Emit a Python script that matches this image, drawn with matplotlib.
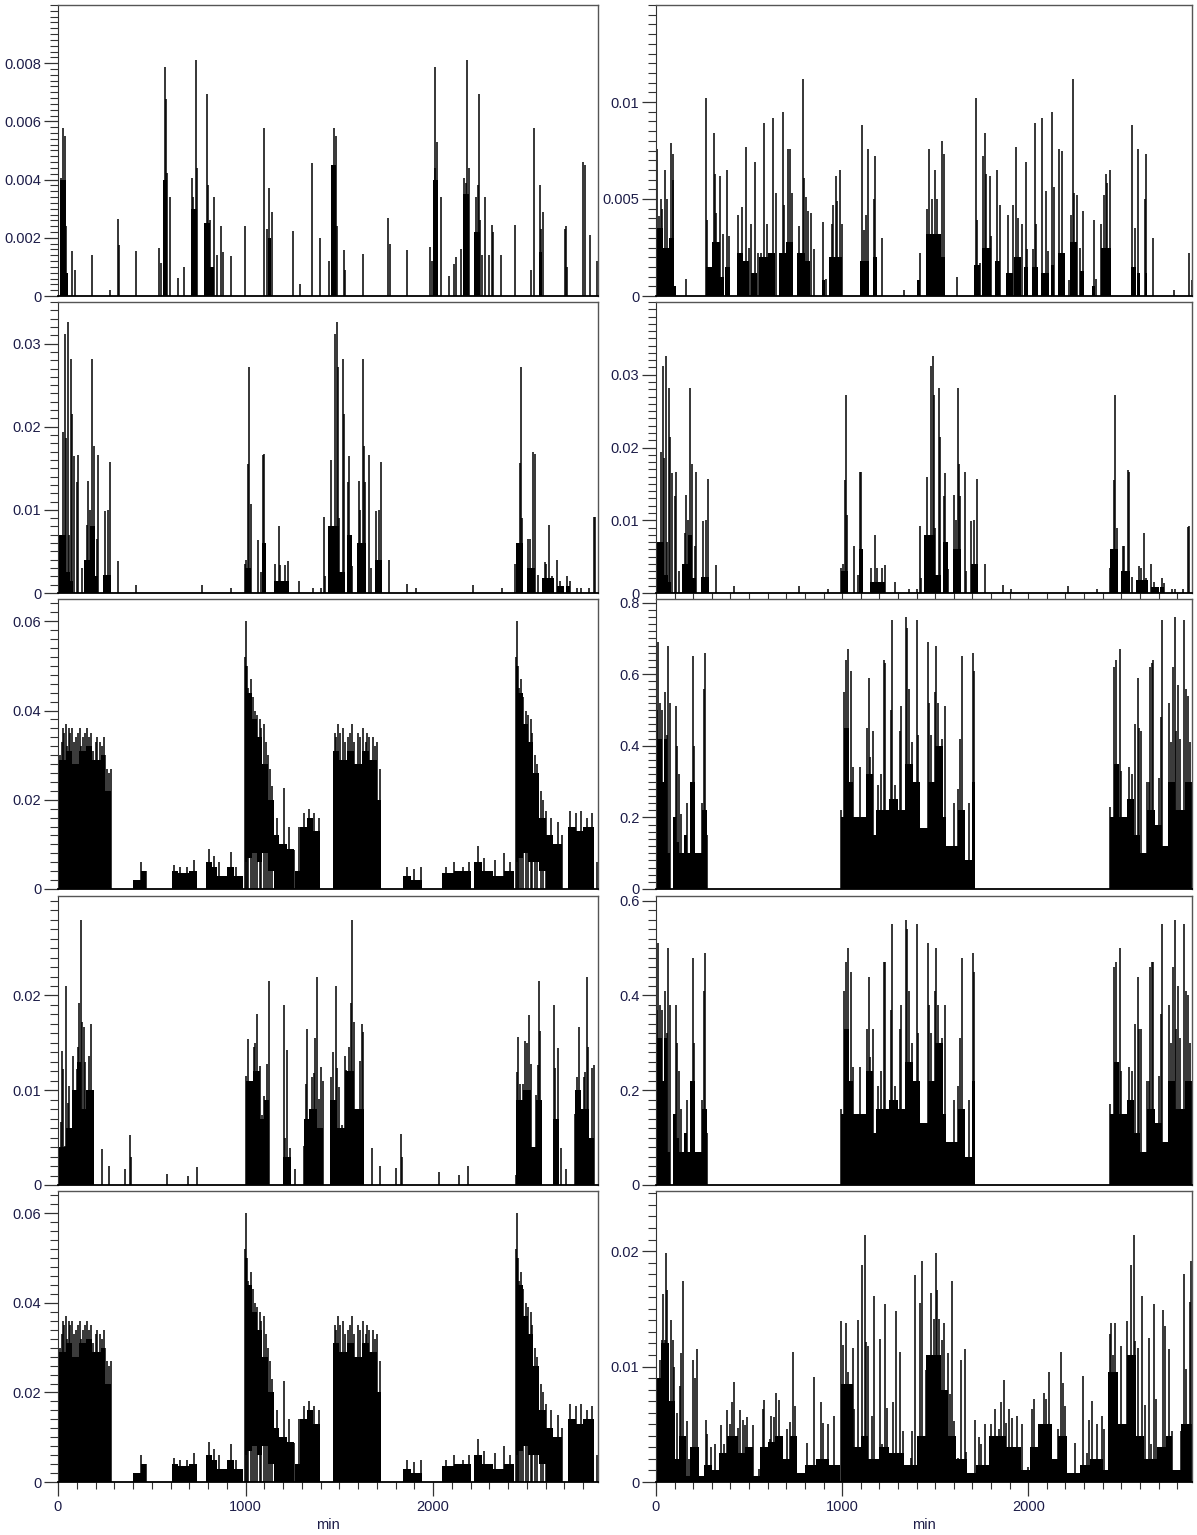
import matplotlib
matplotlib.use("Agg")
import matplotlib.pyplot as plt
from matplotlib.ticker import MultipleLocator, FixedLocator, FuncFormatter

plt.rcParams['font.family'] = ['Liberation Sans', 'DejaVu Sans']

# ---- data: (minute, value) spikes and dense blocks (start, end, top) or (start, end, low, top) ----
pk_l1 = [(15, 0.00405), (24, 0.00576), (37, 0.0055), (43, 0.0024), (76, 0.00156), (89, 0.00089), (182, 0.0014),
         (275, 0.0002), (319, 0.00264), (325, 0.00175), (418, 0.00156), (537, 0.00164), (550, 0.00114),
         (568, 0.00786), (574, 0.00676), (580, 0.00423), (596, 0.0034), (640, 0.00062), (674, 0.001),
         (715, 0.00405), (722, 0.0034), (735, 0.0081), (741, 0.0044), (785, 0.001), (795, 0.00693),
         (799, 0.0038), (808, 0.0026), (832, 0.0034), (850, 0.0014), (871, 0.0024), (878, 0.0015),
         (925, 0.00137), (999, 0.0024), (1097, 0.00576), (1112, 0.0023), (1125, 0.0037), (1142, 0.0029),
         (1255, 0.00223), (1290, 0.0004), (1357, 0.00457), (1398, 0.002), (1444, 0.0012), (1460, 0.00405),
         (1473, 0.00576), (1482, 0.0055), (1487, 0.0024), (1523, 0.00158), (1532, 0.0009), (1627, 0.00144),
         (1760, 0.00267), (1770, 0.00179), (1862, 0.00158), (1983, 0.0017), (1996, 0.0012), (2008, 0.0044),
         (2013, 0.00786), (2020, 0.0053), (2042, 0.0034), (2085, 0.0007), (2113, 0.0011), (2122, 0.00135),
         (2150, 0.0016), (2163, 0.00405), (2174, 0.0039), (2182, 0.0081), (2190, 0.0044), (2228, 0.0034),
         (2238, 0.0038), (2245, 0.00693), (2252, 0.0026), (2262, 0.0014), (2276, 0.0034), (2297, 0.0014),
         (2314, 0.00244), (2318, 0.0022), (2364, 0.0014), (2438, 0.00244), (2522, 0.0009), (2536, 0.00576),
         (2572, 0.0038), (2578, 0.0023), (2587, 0.0029), (2702, 0.0023), (2708, 0.0024), (2712, 0.001),
         (2802, 0.0046), (2809, 0.0045), (2839, 0.0021), (2875, 0.0012)]
blk_l1 = [(12, 42, 0.004), (42, 55, 0.0008), (560, 582, 0.004), (708, 742, 0.003), (780, 812, 0.0025),
          (812, 830, 0.001), (1120, 1135, 0.002), (1458, 1485, 0.0045), (1998, 2025, 0.004),
          (2160, 2192, 0.0035), (2220, 2250, 0.0022), (2565, 2580, 0.0015)]

pk_r1 = [(7, 0.0076), (14, 0.0041), (25, 0.005), (34, 0.0045), (48, 0.0065), (57, 0.005), (82, 0.0079),
         (92, 0.006), (94, 0.0073), (160, 0.0009), (268, 0.0102), (274, 0.0039), (309, 0.0084), (315, 0.0063),
         (324, 0.0043), (343, 0.0062), (358, 0.0032), (380, 0.0065), (393, 0.0031), (442, 0.0042),
         (460, 0.0046), (483, 0.0077), (498, 0.0025), (513, 0.0037), (530, 0.0069), (548, 0.0022),
         (565, 0.0022), (580, 0.0089), (595, 0.0037), (629, 0.0092), (644, 0.0053), (681, 0.0095),
         (687, 0.0047), (711, 0.0076), (722, 0.0076), (729, 0.0053), (769, 0.0036), (790, 0.0112),
         (793, 0.0061), (806, 0.0051), (815, 0.0044), (834, 0.0043), (847, 0.0024), (898, 0.0038),
         (913, 0.0009), (943, 0.0037), (950, 0.0047), (965, 0.0062), (974, 0.0049), (988, 0.0065),
         (997, 0.0037), (1107, 0.0088), (1116, 0.0034), (1127, 0.0042), (1140, 0.0076), (1174, 0.005),
         (1176, 0.0072), (1215, 0.003), (1333, 0.0003), (1417, 0.0022), (1458, 0.0045), (1467, 0.0076),
         (1482, 0.005), (1497, 0.0065), (1510, 0.005), (1525, 0.0013), (1538, 0.008), (1548, 0.0073),
         (1615, 0.001), (1718, 0.0102), (1725, 0.0039), (1740, 0.0017), (1757, 0.0072), (1766, 0.0084),
         (1772, 0.0063), (1795, 0.0062), (1800, 0.0031), (1832, 0.0065), (1847, 0.0047), (1893, 0.0042),
         (1917, 0.0047), (1936, 0.0077), (1944, 0.004), (1968, 0.0037), (1987, 0.0069), (1996, 0.0024),
         (2024, 0.0024), (2034, 0.0089), (2043, 0.0037), (2076, 0.0092), (2095, 0.0054), (2108, 0.0023),
         (2127, 0.0095), (2136, 0.0056), (2168, 0.0076), (2180, 0.0075), (2187, 0.0017), (2217, 0.0008),
         (2230, 0.0042), (2239, 0.0112), (2248, 0.0053), (2262, 0.0052), (2277, 0.0025), (2292, 0.0044),
         (2351, 0.0039), (2362, 0.0009), (2392, 0.0037), (2407, 0.0052), (2418, 0.0063), (2425, 0.0058),
         (2441, 0.0065), (2557, 0.0088), (2572, 0.0035), (2590, 0.0076), (2627, 0.005), (2631, 0.0073),
         (2669, 0.003), (2781, 0.0003), (2865, 0.0022), (2878, 0.0008)]
blk_r1 = [(0, 40, 0.0035), (40, 70, 0.0025), (70, 95, 0.003), (95, 110, 0.0005), (268, 300, 0.0015),
          (300, 345, 0.0028), (345, 365, 0.001), (370, 400, 0.0015), (435, 470, 0.0022), (470, 500, 0.0018),
          (510, 545, 0.0012), (555, 600, 0.002), (600, 640, 0.0022), (660, 700, 0.0022), (700, 735, 0.0028),
          (755, 800, 0.0022), (800, 830, 0.0018), (890, 910, 0.0008), (930, 1000, 0.002), (1095, 1145, 0.0018),
          (1165, 1185, 0.002), (1405, 1420, 0.0008), (1450, 1530, 0.0032), (1530, 1555, 0.002),
          (1710, 1740, 0.0016), (1750, 1800, 0.0025), (1820, 1850, 0.0018), (1880, 1920, 0.0012),
          (1925, 1960, 0.002), (1975, 2000, 0.0015), (2020, 2050, 0.0015), (2070, 2110, 0.0012),
          (2120, 2140, 0.0016), (2160, 2200, 0.0022), (2225, 2260, 0.0028), (2280, 2300, 0.0013),
          (2345, 2360, 0.0005), (2390, 2445, 0.0025), (2550, 2580, 0.0015), (2585, 2600, 0.0012),
          (2625, 2640, 0.0012)]

# second row: same trace on both sides
pk_2 = [(15, 0.0057), (28, 0.0194), (37, 0.0312), (42, 0.0186), (52, 0.0326), (60, 0.007), (71, 0.0282),
        (76, 0.0215), (84, 0.0165), (102, 0.0134), (108, 0.0166), (126, 0.003), (154, 0.0082), (160, 0.0135),
        (172, 0.01), (182, 0.0282), (191, 0.0177), (210, 0.0065), (215, 0.0166), (251, 0.0099), (266, 0.01),
        (279, 0.0157), (321, 0.0038), (418, 0.001), (767, 0.001), (925, 0.0006), (995, 0.0035), (1004, 0.004),
        (1014, 0.0155), (1021, 0.0272), (1027, 0.0107), (1064, 0.0064), (1085, 0.0025), (1094, 0.0166),
        (1101, 0.0167), (1157, 0.0035), (1176, 0.008), (1185, 0.0034), (1213, 0.0034), (1228, 0.0038),
        (1284, 0.0015), (1362, 0.0006), (1400, 0.0006), (1417, 0.0092), (1426, 0.0021), (1454, 0.016),
        (1465, 0.0069), (1476, 0.0312), (1487, 0.0326), (1494, 0.0272), (1500, 0.009), (1519, 0.0282),
        (1524, 0.0215), (1547, 0.0134), (1552, 0.0165), (1570, 0.0033), (1603, 0.0135), (1612, 0.01),
        (1625, 0.0282), (1630, 0.0177), (1636, 0.0133), (1658, 0.0166), (1667, 0.003), (1695, 0.0099),
        (1710, 0.01), (1723, 0.0157), (1766, 0.004), (1862, 0.0011), (1908, 0.0006), (2212, 0.001),
        (2370, 0.0006), (2438, 0.0035), (2447, 0.004), (2462, 0.0156), (2468, 0.0272), (2475, 0.009),
        (2509, 0.0065), (2516, 0.0065), (2535, 0.0169), (2542, 0.0167), (2560, 0.0022), (2596, 0.0037),
        (2605, 0.0035), (2620, 0.0082), (2633, 0.002), (2661, 0.004), (2676, 0.0015), (2717, 0.002),
        (2728, 0.0014), (2770, 0.0006), (2788, 0.0006), (2832, 0.0006), (2856, 0.0091), (2866, 0.0092)]
blk_2 = [(5, 45, 0.007), (45, 62, 0.0025), (62, 80, 0.0015), (140, 172, 0.004), (172, 195, 0.008),
         (195, 215, 0.002), (240, 285, 0.0022), (995, 1030, 0.003), (1090, 1110, 0.006), (1150, 1230, 0.0015),
         (1440, 1500, 0.008), (1500, 1530, 0.0025), (1540, 1570, 0.007), (1595, 1640, 0.006),
         (1690, 1730, 0.004), (2440, 2480, 0.006), (2500, 2545, 0.003), (2580, 2645, 0.0018),
         (2660, 2700, 0.0008), (2710, 2730, 0.0008)]

# third and fifth row left: same trace
pk_3 = [(13, 0.030), (20, 0.033), (25, 0.036), (32, 0.035), (40, 0.037), (48, 0.032), (58, 0.036), (66, 0.035),
        (76, 0.036), (86, 0.033), (95, 0.034), (105, 0.035), (115, 0.036), (125, 0.032), (135, 0.034),
        (145, 0.035), (156, 0.036), (165, 0.034), (174, 0.035), (185, 0.031), (200, 0.033), (210, 0.034),
        (222, 0.033), (232, 0.032), (244, 0.034), (252, 0.03), (262, 0.027), (270, 0.026), (280, 0.027),
        (440, 0.006), (470, 0.004), (618, 0.0054), (650, 0.005), (690, 0.005), (725, 0.0065),
        (805, 0.009), (830, 0.0073), (860, 0.006), (920, 0.0084), (950, 0.005), (996, 0.052), (1002, 0.06),
        (1010, 0.05), (1015, 0.045), (1027, 0.047), (1040, 0.043), (1050, 0.04), (1062, 0.039), (1075, 0.038),
        (1085, 0.036), (1098, 0.037), (1108, 0.033), (1120, 0.03), (1130, 0.027), (1142, 0.023),
        (1170, 0.016), (1204, 0.0226), (1230, 0.014), (1260, 0.0088), (1284, 0.014), (1310, 0.017),
        (1340, 0.018), (1365, 0.017), (1390, 0.016), (1475, 0.035), (1485, 0.034), (1495, 0.037),
        (1505, 0.035), (1520, 0.036), (1530, 0.033), (1545, 0.034), (1555, 0.035), (1570, 0.037),
        (1580, 0.033), (1600, 0.035), (1610, 0.034), (1625, 0.036), (1640, 0.033), (1650, 0.035),
        (1660, 0.034), (1680, 0.034), (1690, 0.032), (1700, 0.033), (1715, 0.027), (1860, 0.005),
        (1900, 0.0045), (1935, 0.005), (2070, 0.005), (2110, 0.006), (2160, 0.005), (2190, 0.006),
        (2240, 0.0097), (2270, 0.007), (2330, 0.0065), (2380, 0.008), (2410, 0.006), (2440, 0.052),
        (2447, 0.06), (2455, 0.05), (2460, 0.045), (2470, 0.047), (2482, 0.043), (2495, 0.04), (2508, 0.039),
        (2520, 0.038), (2530, 0.035), (2545, 0.03), (2555, 0.028), (2575, 0.022), (2585, 0.02),
        (2600, 0.0175), (2630, 0.016), (2665, 0.015), (2690, 0.012), (2730, 0.0175), (2760, 0.017),
        (2790, 0.0175), (2820, 0.016), (2850, 0.017), (2872, 0.006)]
blk_3 = [(5, 40, 0.029), (40, 76, 0.031), (76, 112, 0.028), (112, 147, 0.031), (147, 183, 0.032),
         (183, 227, 0.029), (227, 253, 0.03), (253, 282, 0.022), (400, 440, 0.002), (440, 470, 0.004),
         (610, 640, 0.004), (640, 700, 0.0035), (700, 740, 0.004), (790, 820, 0.006), (820, 850, 0.005),
         (850, 900, 0.003), (900, 940, 0.005), (940, 985, 0.003), (995, 1010, 0.006, 0.05),
         (1010, 1035, 0.007, 0.044), (1035, 1060, 0.008, 0.038), (1060, 1090, 0.006, 0.034),
         (1090, 1120, 0.008, 0.028), (1120, 1150, 0.004, 0.02), (1150, 1180, 0.012), (1180, 1220, 0.01),
         (1220, 1260, 0.009), (1265, 1290, 0.004), (1290, 1330, 0.014), (1330, 1360, 0.016),
         (1360, 1395, 0.013), (1465, 1500, 0.031), (1500, 1540, 0.029), (1540, 1580, 0.031),
         (1580, 1620, 0.028), (1620, 1660, 0.031), (1660, 1700, 0.029), (1700, 1720, 0.02),
         (1840, 1880, 0.003), (1880, 1940, 0.002), (2050, 2110, 0.0035), (2110, 2200, 0.004),
         (2220, 2260, 0.006), (2260, 2320, 0.004), (2320, 2380, 0.003), (2380, 2430, 0.004),
         (2440, 2455, 0.006, 0.05), (2455, 2480, 0.007, 0.044), (2480, 2505, 0.008, 0.037),
         (2505, 2535, 0.006, 0.033), (2535, 2565, 0.006, 0.026), (2565, 2600, 0.004, 0.016),
         (2600, 2640, 0.012), (2640, 2690, 0.01), (2720, 2760, 0.014), (2760, 2800, 0.013), (2800, 2860, 0.014)]

pk_r3 = [(0, 0.18), (7, 0.5), (12, 0.69), (20, 0.52), (31, 0.5), (40, 0.22), (49, 0.55), (57, 0.43),
         (66, 0.68), (75, 0.52), (99, 0.1), (109, 0.51), (113, 0.4), (124, 0.32), (132, 0.21), (155, 0.13),
         (164, 0.24), (187, 0.27), (198, 0.65), (205, 0.4), (248, 0.24), (257, 0.56), (263, 0.66), (272, 0.15),
         (996, 0.22), (1011, 0.55), (1022, 0.64), (1032, 0.67), (1050, 0.61), (1058, 0.34), (1097, 0.34),
         (1134, 0.45), (1145, 0.59), (1152, 0.37), (1164, 0.44), (1195, 0.29), (1208, 0.32), (1223, 0.64),
         (1229, 0.63), (1260, 0.5), (1269, 0.75), (1282, 0.29), (1310, 0.44), (1316, 0.51), (1344, 0.76),
         (1348, 0.73), (1358, 0.56), (1375, 0.41), (1401, 0.75), (1408, 0.43), (1459, 0.69), (1465, 0.52),
         (1480, 0.43), (1497, 0.55), (1507, 0.68), (1516, 0.52), (1539, 0.42), (1553, 0.51), (1603, 0.24),
         (1620, 0.28), (1636, 0.42), (1644, 0.65), (1681, 0.24), (1702, 0.66), (1709, 0.61),
         (2439, 0.23), (2463, 0.62), (2470, 0.64), (2491, 0.67), (2500, 0.33), (2543, 0.34), (2560, 0.32),
         (2575, 0.46), (2588, 0.59), (2597, 0.45), (2608, 0.44), (2640, 0.3), (2647, 0.3), (2656, 0.62),
         (2664, 0.63), (2672, 0.64), (2705, 0.31), (2712, 0.48), (2718, 0.75), (2755, 0.52), (2766, 0.41),
         (2779, 0.62), (2786, 0.76), (2793, 0.44), (2805, 0.57), (2814, 0.42), (2839, 0.75), (2848, 0.56),
         (2857, 0.54), (2870, 0.41)]
blk_r3 = [(0, 30, 0.42), (30, 45, 0.3), (45, 60, 0.42), (60, 75, 0.1), (90, 110, 0.2), (110, 125, 0.13),
          (125, 150, 0.1), (150, 165, 0.15), (165, 185, 0.1), (185, 210, 0.3), (210, 245, 0.1),
          (245, 275, 0.22), (996, 1010, 0.2), (1010, 1035, 0.45), (1035, 1060, 0.3), (1060, 1130, 0.2),
          (1130, 1165, 0.32), (1165, 1180, 0.15), (1180, 1250, 0.22), (1250, 1300, 0.25), (1300, 1340, 0.22),
          (1340, 1380, 0.35), (1380, 1420, 0.3), (1420, 1460, 0.17), (1460, 1500, 0.3), (1500, 1540, 0.4),
          (1540, 1560, 0.2), (1560, 1620, 0.12), (1620, 1660, 0.22), (1660, 1700, 0.08), (1700, 1712, 0.3),
          (2440, 2460, 0.2), (2460, 2490, 0.35), (2490, 2530, 0.2), (2530, 2570, 0.25), (2570, 2600, 0.15),
          (2600, 2640, 0.1), (2640, 2680, 0.22), (2680, 2720, 0.18), (2720, 2750, 0.12), (2750, 2790, 0.3),
          (2790, 2840, 0.22), (2840, 2880, 0.3)]

pk_r4 = [(0, 0.13), (7, 0.37), (12, 0.51), (20, 0.38), (31, 0.37), (40, 0.16), (49, 0.41), (57, 0.32),
         (66, 0.5), (75, 0.38), (99, 0.07), (109, 0.38), (113, 0.3), (124, 0.24), (132, 0.16), (155, 0.1),
         (164, 0.18), (187, 0.2), (198, 0.48), (205, 0.3), (248, 0.18), (257, 0.41), (263, 0.49), (272, 0.11),
         (996, 0.16), (1011, 0.41), (1022, 0.47), (1032, 0.5), (1050, 0.45), (1058, 0.25), (1097, 0.25),
         (1134, 0.33), (1145, 0.44), (1152, 0.27), (1164, 0.33), (1195, 0.21), (1208, 0.24), (1223, 0.47),
         (1229, 0.47), (1260, 0.37), (1269, 0.55), (1282, 0.21), (1310, 0.33), (1316, 0.38), (1344, 0.56),
         (1348, 0.54), (1358, 0.41), (1375, 0.3), (1401, 0.55), (1408, 0.32), (1459, 0.51), (1465, 0.38),
         (1480, 0.32), (1497, 0.41), (1507, 0.5), (1516, 0.38), (1539, 0.31), (1553, 0.38), (1603, 0.18),
         (1620, 0.21), (1636, 0.31), (1644, 0.48), (1681, 0.18), (1702, 0.49), (1709, 0.45),
         (2439, 0.17), (2463, 0.46), (2470, 0.47), (2491, 0.5), (2500, 0.24), (2543, 0.25), (2560, 0.24),
         (2575, 0.34), (2588, 0.44), (2597, 0.33), (2608, 0.33), (2640, 0.22), (2647, 0.22), (2656, 0.46),
         (2664, 0.47), (2672, 0.47), (2705, 0.23), (2712, 0.36), (2718, 0.55), (2755, 0.38), (2766, 0.3),
         (2779, 0.46), (2786, 0.56), (2793, 0.33), (2805, 0.42), (2814, 0.31), (2839, 0.55), (2848, 0.41),
         (2857, 0.4), (2870, 0.3)]
blk_r4 = [(0, 30, 0.31), (30, 45, 0.22), (45, 60, 0.31), (60, 75, 0.07), (90, 110, 0.15), (110, 125, 0.1),
          (125, 150, 0.07), (150, 165, 0.11), (165, 185, 0.07), (185, 210, 0.22), (210, 245, 0.07),
          (245, 275, 0.16), (996, 1010, 0.15), (1010, 1035, 0.33), (1035, 1060, 0.22), (1060, 1130, 0.15),
          (1130, 1165, 0.24), (1165, 1180, 0.11), (1180, 1250, 0.16), (1250, 1300, 0.18), (1300, 1340, 0.16),
          (1340, 1380, 0.26), (1380, 1420, 0.22), (1420, 1460, 0.13), (1460, 1500, 0.22), (1500, 1540, 0.3),
          (1540, 1560, 0.15), (1560, 1620, 0.09), (1620, 1660, 0.16), (1660, 1700, 0.06), (1700, 1712, 0.22),
          (2440, 2460, 0.15), (2460, 2490, 0.26), (2490, 2530, 0.15), (2530, 2570, 0.18), (2570, 2600, 0.11),
          (2600, 2640, 0.07), (2640, 2680, 0.16), (2680, 2720, 0.13), (2720, 2750, 0.09), (2750, 2790, 0.22),
          (2790, 2840, 0.16), (2840, 2880, 0.22)]

pk_l4 = [(5, 0.0027), (15, 0.0067), (20, 0.0141), (27, 0.0122), (35, 0.0041), (43, 0.021), (52, 0.0087),
         (61, 0.0104), (80, 0.0136), (90, 0.008), (99, 0.0122), (108, 0.0146), (113, 0.0192), (123, 0.028),
         (130, 0.0172), (136, 0.0167), (145, 0.013), (150, 0.006), (160, 0.0084), (167, 0.0136), (177, 0.017),
         (185, 0.0092), (233, 0.0038), (270, 0.002), (359, 0.0017), (384, 0.0053), (390, 0.003), (583, 0.0012),
         (691, 0.001), (741, 0.0019), (1002, 0.0115), (1011, 0.0154), (1020, 0.0105), (1030, 0.0107),
         (1043, 0.0146), (1052, 0.015), (1063, 0.018), (1077, 0.0126), (1090, 0.0074), (1101, 0.0094),
         (1117, 0.0128), (1123, 0.0215), (1205, 0.019), (1212, 0.005), (1220, 0.0143), (1239, 0.0039),
         (1265, 0.0017), (1313, 0.0041), (1320, 0.0107), (1328, 0.0165), (1336, 0.0063), (1356, 0.0114),
         (1364, 0.0118), (1373, 0.0155), (1380, 0.022), (1393, 0.0091), (1403, 0.0125), (1412, 0.011),
         (1458, 0.0114), (1468, 0.014), (1481, 0.021), (1488, 0.0123), (1500, 0.0103), (1515, 0.0063),
         (1529, 0.0136), (1536, 0.0121), (1552, 0.0146), (1561, 0.0192), (1570, 0.028), (1578, 0.0172),
         (1590, 0.006), (1608, 0.0131), (1619, 0.017), (1627, 0.0161), (1673, 0.0039), (1716, 0.002),
         (1803, 0.0018), (1828, 0.0054), (1836, 0.003), (2032, 0.0014), (2138, 0.0011), (2189, 0.002),
         (2442, 0.0011), (2450, 0.0119), (2455, 0.0156), (2465, 0.0107), (2478, 0.0107), (2492, 0.0152),
         (2503, 0.015), (2511, 0.0179), (2520, 0.0128), (2530, 0.0025), (2548, 0.0095), (2558, 0.0127),
         (2567, 0.0215), (2573, 0.0162), (2645, 0.019), (2653, 0.0124), (2664, 0.0145), (2685, 0.0039),
         (2711, 0.0017), (2759, 0.0075), (2767, 0.0114), (2776, 0.0167), (2790, 0.005), (2804, 0.0114),
         (2812, 0.0119), (2822, 0.022), (2828, 0.0146), (2837, 0.0025), (2846, 0.0124), (2856, 0.0127)]
blk_l4 = [(0, 40, 0.004), (40, 76, 0.006), (76, 100, 0.01), (100, 125, 0.013), (125, 150, 0.008),
          (150, 190, 0.01), (1000, 1040, 0.011), (1040, 1075, 0.012), (1075, 1100, 0.007), (1100, 1125, 0.009),
          (1200, 1240, 0.003), (1310, 1340, 0.007), (1340, 1380, 0.008), (1380, 1415, 0.006),
          (1450, 1490, 0.009), (1490, 1530, 0.006), (1530, 1580, 0.012), (1580, 1630, 0.008),
          (2440, 2480, 0.009), (2480, 2520, 0.01), (2520, 2550, 0.004), (2550, 2580, 0.009),
          (2640, 2670, 0.007), (2755, 2790, 0.01), (2790, 2830, 0.008), (2830, 2860, 0.005)]

pk_r5 = [(7, 0.0072), (20, 0.0106), (31, 0.0123), (38, 0.0163), (49, 0.0123), (53, 0.0198), (61, 0.0166),
         (68, 0.0046), (81, 0.014), (90, 0.0123), (99, 0.01), (112, 0.006), (127, 0.0083), (136, 0.0112),
         (146, 0.0174), (155, 0.004), (165, 0.0053), (175, 0.002), (198, 0.0106), (207, 0.009), (220, 0.0115),
         (266, 0.0054), (276, 0.0042), (298, 0.003), (316, 0.0033), (350, 0.0049), (365, 0.0033),
         (383, 0.0062), (396, 0.005), (409, 0.0069), (421, 0.0087), (443, 0.0047), (452, 0.0062),
         (465, 0.0054), (476, 0.0049), (491, 0.0056), (523, 0.0049), (551, 0.0011), (573, 0.0063),
         (582, 0.0071), (610, 0.0037), (619, 0.0057), (632, 0.0056), (643, 0.0077), (662, 0.0071),
         (706, 0.0046), (722, 0.0052), (736, 0.0113), (749, 0.0066), (796, 0.0008), (811, 0.0034),
         (829, 0.0008), (848, 0.0091), (889, 0.0069), (898, 0.0051), (922, 0.005), (957, 0.0057),
         (996, 0.0139), (1004, 0.0119), (1019, 0.0138), (1034, 0.0095), (1059, 0.0116), (1065, 0.0063),
         (1086, 0.014), (1108, 0.0188), (1121, 0.0214), (1126, 0.0121), (1139, 0.0118), (1160, 0.0057),
         (1171, 0.0161), (1201, 0.0124), (1214, 0.0033), (1232, 0.0154), (1241, 0.0064), (1275, 0.0069),
         (1290, 0.0148), (1312, 0.0113), (1325, 0.0044), (1368, 0.0021), (1377, 0.0044), (1390, 0.0179),
         (1420, 0.0155), (1431, 0.0191), (1451, 0.0097), (1464, 0.0106), (1479, 0.0164), (1492, 0.0141),
         (1502, 0.0198), (1511, 0.0166), (1520, 0.0141), (1535, 0.0123), (1545, 0.0138), (1568, 0.0112),
         (1580, 0.0076), (1590, 0.0174), (1603, 0.0053), (1620, 0.0021), (1637, 0.0106), (1659, 0.0115),
         (1668, 0.0026), (1715, 0.0054), (1733, 0.0039), (1746, 0.0033), (1770, 0.005), (1799, 0.005),
         (1821, 0.0063), (1842, 0.0046), (1854, 0.0069), (1869, 0.0088), (1882, 0.0051), (1897, 0.0063),
         (1914, 0.0055), (1938, 0.0057), (1966, 0.005), (2000, 0.0013), (2021, 0.0063), (2031, 0.0072),
         (2059, 0.0046), (2086, 0.0077), (2096, 0.0072), (2110, 0.0095), (2161, 0.0046), (2174, 0.0113),
         (2185, 0.0086), (2198, 0.0066), (2253, 0.0034), (2276, 0.0005), (2296, 0.0092), (2315, 0.0025),
         (2328, 0.0054), (2341, 0.007), (2370, 0.005), (2396, 0.0057), (2408, 0.0046), (2439, 0.0128),
         (2445, 0.0138), (2458, 0.011), (2467, 0.0138), (2477, 0.0069), (2501, 0.0118), (2532, 0.0139),
         (2554, 0.0188), (2566, 0.0214), (2573, 0.0122), (2588, 0.0116), (2612, 0.0161), (2630, 0.0067),
         (2647, 0.0125), (2662, 0.0033), (2675, 0.0154), (2686, 0.0072), (2722, 0.0149), (2736, 0.0135),
         (2758, 0.0115), (2772, 0.0044), (2792, 0.0008), (2820, 0.0044), (2835, 0.018), (2848, 0.0098),
         (2867, 0.0156), (2876, 0.0191)]
blk_r5 = [(0, 25, 0.009), (25, 70, 0.012), (70, 100, 0.007), (100, 125, 0.002), (125, 160, 0.004),
          (160, 185, 0.0005), (185, 230, 0.003), (230, 260, 0.0005), (260, 300, 0.0015), (300, 340, 0.001),
          (340, 380, 0.0025), (380, 440, 0.004), (440, 480, 0.0025), (480, 520, 0.003), (520, 560, 0.0005),
          (560, 600, 0.003), (600, 640, 0.0035), (640, 680, 0.004), (680, 720, 0.002), (720, 760, 0.004),
          (760, 800, 0.0008), (800, 860, 0.0015), (860, 930, 0.002), (930, 990, 0.0015), (995, 1060, 0.0085),
          (1060, 1100, 0.003), (1100, 1140, 0.004), (1140, 1200, 0.002), (1200, 1250, 0.003),
          (1250, 1330, 0.0025), (1330, 1400, 0.0015), (1400, 1450, 0.004), (1450, 1530, 0.011),
          (1530, 1570, 0.008), (1570, 1610, 0.004), (1610, 1670, 0.002), (1670, 1720, 0.0008),
          (1720, 1790, 0.0015), (1790, 1880, 0.004), (1880, 1960, 0.003), (1960, 2010, 0.001),
          (2010, 2050, 0.003), (2050, 2130, 0.005), (2130, 2160, 0.002), (2160, 2210, 0.004),
          (2210, 2280, 0.0008), (2280, 2330, 0.0015), (2330, 2400, 0.002), (2400, 2430, 0.001),
          (2430, 2480, 0.0095), (2480, 2530, 0.005), (2530, 2580, 0.011), (2580, 2620, 0.004),
          (2620, 2690, 0.002), (2690, 2740, 0.003), (2740, 2770, 0.004), (2770, 2820, 0.001),
          (2820, 2880, 0.005)]

# y limit, tick steps (major, minor) and number of labelled majors per panel
ylims = [0.01, 0.015, 0.035, 0.04, 0.065, 0.81, 0.0305, 0.61, 0.065, 0.0252]
ysteps = [(0.002, 0.0002), (0.005, 0.0005), (0.01, 0.001), (0.01, 0.001), (0.02, 0.002),
          (0.2, 0.02), (0.01, 0.001), (0.2, 0.02), (0.02, 0.002), (0.01, 0.001)]
nmajor = [4, 2, 3, 3, 3, 4, 2, 3, 3, 2]
panels = [(pk_l1, blk_l1), (pk_r1, blk_r1), (pk_2, blk_2), (pk_2, blk_2), (pk_3, blk_3),
          (pk_r3, blk_r3), (pk_l4, blk_l4), (pk_r4, blk_r4), (pk_3, blk_3), (pk_r5, blk_r5)]

W, H = 1197, 1535
fig = plt.figure(figsize=(W / 100, H / 100), dpi=100)

col_x = [(58, 598), (656, 1192)]
row_y = [(5, 296), (302, 593), (599, 889), (896, 1185), (1191, 1482)]
label_col = '#1c1c48'
fmt = FuncFormatter(lambda v, p: f"{v:g}")

for i, ((pk, blk), ymax, (maj, mnr), nm) in enumerate(zip(panels, ylims, ysteps, nmajor)):
    row, col = divmod(i, 2)
    x0, x1 = col_x[col]
    y0, y1 = row_y[row]
    ax = fig.add_axes([x0 / W, 1 - y1 / H, (x1 - x0) / W, (y1 - y0) / H])

    for b in blk:
        lo, hi = (0, b[2]) if len(b) == 3 else (b[2], b[3])
        ax.fill_between([b[0], b[1]], lo, hi, color='black', lw=0)
    ax.vlines([p[0] for p in pk], 0, [p[1] for p in pk], color='black', lw=1.1)

    ax.set_xlim(0, 2880)
    ax.set_ylim(0, ymax)
    ax.yaxis.set_major_locator(FixedLocator([k * maj for k in range(nm + 1)]))
    ax.yaxis.set_minor_locator(MultipleLocator(mnr))
    ax.yaxis.set_major_formatter(fmt)
    ax.tick_params(axis='y', which='major', direction='out', length=10, width=0.9, color='#333333',
                   labelsize=10.5, labelcolor=label_col, pad=2)
    ax.tick_params(axis='y', which='minor', direction='out', length=5.5, width=0.8, color='#333333')

    ax.xaxis.set_major_locator(MultipleLocator(1000))
    ax.xaxis.set_minor_locator(MultipleLocator(100))
    ax.xaxis.set_major_formatter(fmt)
    if row == 4:
        ax.tick_params(axis='x', which='major', direction='out', length=10, width=0.9, color='#333333',
                       labelsize=10.5, labelcolor=label_col, pad=3)
        ax.tick_params(axis='x', which='minor', direction='out', length=5, width=0.8, color='#333333')
        ax.set_xlabel('min', fontsize=10.5, color=label_col, labelpad=3)
    elif row == 1 and col == 1:
        ax.tick_params(axis='x', which='both', direction='out', length=5, width=0.8, color='#333333',
                       labelbottom=False)
    else:
        ax.tick_params(axis='x', which='both', bottom=False, labelbottom=False)

    for s in ['top', 'right']:
        ax.spines[s].set_color('#555555')
        ax.spines[s].set_linewidth(1.0)
    ax.spines['left'].set_color('#333333')
    ax.spines['bottom'].set_color('black')
    ax.spines['bottom'].set_linewidth(1.3)

fig.savefig('out.png', dpi=100)
